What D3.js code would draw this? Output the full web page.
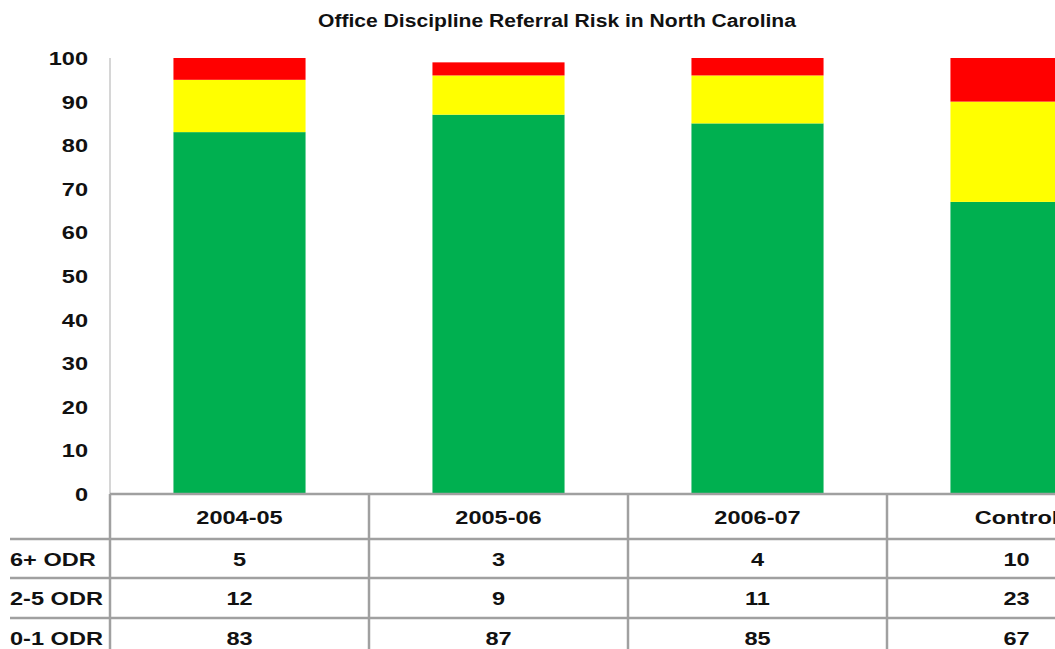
<!DOCTYPE html>
<html>
<head>
<meta charset="utf-8">
<script src="https://cdn.jsdelivr.net/npm/d3@7"></script>
<style>
  html, body { margin: 0; padding: 0; background: #fff; overflow: hidden; }
  text { font-family: "Liberation Sans", Arial, sans-serif; font-weight: bold; fill: #111; }
</style>
</head>
<body>
<div id="chart"></div>
<script>
// data
var categories = ["2004-05", "2005-06", "2006-07", "Control"];
var odr01 = [83, 87, 85, 67];
var odr25 = [12, 9, 11, 23];
var odr6 = [5, 3, 4, 10];
var rowLabels = ["6+ ODR", "2-5 ODR", "0-1 ODR"];
var yTicks = [0, 10, 20, 30, 40, 50, 60, 70, 80, 90, 100];
var title = "Office Discipline Referral Risk in North Carolina";

var w = 1055, h = 649;
var plotLeft = 110, plotRight = 1146, plotTop = 58, plotBottom = 494;
var rowH = [45, 39, 40, 40];
var stretch = 1.24;

var svg = d3.select("#chart")
    .append("svg")
    .attr("width", w)
    .attr("height", h);

var x = d3.scaleBand()
    .domain(categories)
    .range([plotLeft, plotRight])
    .paddingInner(0)
    .paddingOuter(0);

var y = d3.scaleLinear()
    .domain([0, 100])
    .range([plotBottom, plotTop]);

var barW = x.bandwidth() * 0.51;

// stacked series
var rows = categories.map(function (c, i) {
    return { cat: c, low: odr01[i], mid: odr25[i], high: odr6[i] };
});
var stack = d3.stack().keys(["low", "mid", "high"]);
var series = stack(rows);
var colors = { low: "#00b050", mid: "#ffff00", high: "#ff0000" };

svg.append("g")
    .selectAll("g")
    .data(series)
    .enter()
    .append("g")
    .attr("fill", function (d) { return colors[d.key]; })
    .selectAll("rect")
    .data(function (d) { return d; })
    .enter()
    .append("rect")
    .attr("x", function (d) { return x(d.data.cat) + (x.bandwidth() - barW) / 2; })
    .attr("y", function (d) { return y(d[1]); })
    .attr("width", barW)
    .attr("height", function (d) { return y(d[0]) - y(d[1]); });

// y axis line
svg.append("line")
    .attr("x1", plotLeft).attr("x2", plotLeft)
    .attr("y1", plotTop).attr("y2", plotBottom)
    .attr("stroke", "#c8c8c8")
    .attr("stroke-width", 1.5);

// tick labels
svg.append("g")
    .selectAll("text")
    .data(yTicks)
    .enter()
    .append("text")
    .attr("transform", function (d) { return "translate(88," + (y(d) + 7) + ") scale(" + stretch + ",1)"; })
    .attr("text-anchor", "end")
    .style("font-size", "19px")
    .text(function (d) { return d; });

// title
svg.append("text")
    .attr("transform", "translate(557,27) scale(1.14,1)")
    .attr("text-anchor", "middle")
    .style("font-size", "18.5px")
    .text(title);

// data table
var rowTop = [plotBottom];
rowH.forEach(function (r, i) { rowTop.push(rowTop[i] + r); });

var grid = svg.append("g")
    .attr("stroke", "#a0a0a0")
    .attr("stroke-width", 2.5);

grid.append("line")
    .attr("x1", plotLeft).attr("x2", w + 100)
    .attr("y1", plotBottom).attr("y2", plotBottom);

grid.selectAll(".hline")
    .data(rowTop.slice(1, 4))
    .enter()
    .append("line")
    .attr("class", "hline")
    .attr("x1", 10).attr("x2", w + 100)
    .attr("y1", function (d) { return d; })
    .attr("y2", function (d) { return d; });

grid.selectAll(".vline")
    .data(categories)
    .enter()
    .append("line")
    .attr("class", "vline")
    .attr("x1", function (d) { return x(d); })
    .attr("x2", function (d) { return x(d); })
    .attr("y1", plotBottom)
    .attr("y2", h);

// header row
svg.append("g")
    .selectAll("text")
    .data(categories)
    .enter()
    .append("text")
    .attr("transform", function (d) {
        return "translate(" + (x(d) + x.bandwidth() / 2) + "," + (rowTop[0] + rowH[0] / 2 + 7) + ") scale(" + stretch + ",1)";
    })
    .attr("text-anchor", "middle")
    .style("font-size", "19px")
    .text(function (d) { return d; });

var tableRows = [odr6, odr25, odr01];

tableRows.forEach(function (vals, r) {
    var cy = rowTop[r + 1] + rowH[r + 1] / 2 + 7;
    svg.append("text")
        .attr("transform", "translate(10," + cy + ") scale(" + stretch + ",1)")
        .style("font-size", "19px")
        .text(rowLabels[r]);

    svg.append("g")
        .selectAll("text")
        .data(vals)
        .enter()
        .append("text")
        .attr("transform", function (d, i) {
            return "translate(" + (x(categories[i]) + x.bandwidth() / 2) + "," + cy + ") scale(" + stretch + ",1)";
        })
        .attr("text-anchor", "middle")
        .style("font-size", "19px")
        .text(function (d) { return d; });
});
</script>
</body>
</html>
